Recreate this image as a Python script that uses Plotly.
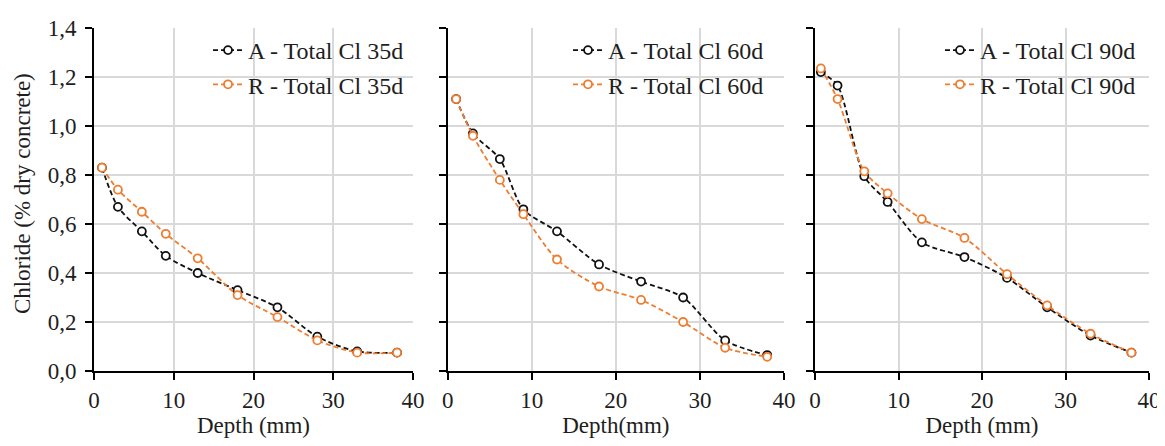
import plotly.graph_objects as go

# ---- data ----
depth_35 = [1, 3, 6, 9, 13, 18, 23, 28, 33, 38]
a_35 = [0.83, 0.67, 0.57, 0.47, 0.40, 0.33, 0.26, 0.14, 0.08, 0.075]
r_35 = [0.83, 0.74, 0.65, 0.56, 0.46, 0.31, 0.22, 0.125, 0.075, 0.075]

depth_60 = [1, 3, 6.2, 9, 13, 18, 23, 28, 33, 38]
a_60 = [1.11, 0.97, 0.865, 0.66, 0.57, 0.435, 0.365, 0.30, 0.125, 0.065]
r_60 = [1.11, 0.96, 0.78, 0.64, 0.455, 0.345, 0.29, 0.20, 0.095, 0.058]

depth_90 = [0.7, 2.7, 5.9, 8.7, 12.8, 17.9, 23, 27.8, 33, 37.9]
a_90 = [1.22, 1.165, 0.795, 0.69, 0.525, 0.465, 0.38, 0.26, 0.145, 0.075]
r_90 = [1.235, 1.11, 0.815, 0.725, 0.62, 0.543, 0.395, 0.268, 0.152, 0.075]

panels = [
    ("35d", depth_35, a_35, r_35, "Depth (mm)"),
    ("60d", depth_60, a_60, r_60, "Depth(mm)"),
    ("90d", depth_90, a_90, r_90, "Depth (mm)"),
]
y_title = "Chloride (% dry concrete)"

OFF = 8  # page body margin
W, H = 1165 - OFF, 446 - 2 * OFF
x_dom_px = [(94, 413), (447.7, 784), (815, 1149)]
y_top, y_bot = 28, 371
y_dom = [1 - (y_bot - OFF) / H, 1 - (y_top - OFF) / H]
legend_x_px = [208, 568, 940]

FONT = "Liberation Serif"
BLACK = "#111111"
ORANGE = "#ED7D31"
GRID = "#D9D9D9"
TXT = "#1e1e1e"
FS_TICK = 23
FS_TITLE = 23
FS_LEG = 24

fig = go.Figure()
layout = dict(
    width=W, height=H,
    margin=dict(l=0, r=0, t=0, b=0),
    paper_bgcolor="white", plot_bgcolor="white",
    separators=",.",
    font=dict(family=FONT, size=FS_TICK, color=TXT),
    showlegend=True,
)

for i, (lab, d, a, r, xt) in enumerate(panels):
    n = i + 1
    xs = "" if n == 1 else str(n)
    xa = "x" + xs
    ya = "y" + xs
    lg = "legend" if n == 1 else f"legend{n}"
    for name, vals, col in ((f"A - Total Cl {lab}", a, BLACK), (f"R - Total Cl {lab}", r, ORANGE)):
        fig.add_trace(go.Scatter(
            x=d, y=vals, name=name, xaxis=xa, yaxis=ya, legend=lg,
            legendgroup=name,
            mode="lines+markers",
            line=dict(color=col, width=1.8, dash="5px,3px", shape="spline", smoothing=0.8),
            marker=dict(symbol="circle", size=8, color="white", line=dict(color=col, width=1.8)),
        ))
    dom = [(x_dom_px[i][0] - OFF) / W, (x_dom_px[i][1] - OFF) / W]
    layout["xaxis" + xs] = dict(
        domain=dom, anchor=ya, range=[0, 40], tick0=0, dtick=10,
        showgrid=True, gridcolor=GRID, gridwidth=1.5,
        showline=True, linecolor="black", linewidth=2,
        ticks="outside", ticklen=7, tickwidth=2, tickcolor="black",
        tickfont=dict(size=FS_TICK, family=FONT, color=TXT),
        ticklabeloverflow="allow",
        zeroline=False, automargin=False,
        title=dict(text=xt, font=dict(size=FS_TITLE, family=FONT, color=TXT)),
    )
    layout["yaxis" + xs] = dict(
        domain=y_dom, anchor=xa, range=[0, 1.4], tick0=0, dtick=0.2, tickformat=".1f",
        showgrid=True, gridcolor=GRID, gridwidth=1.5,
        showline=True, linecolor="black", linewidth=2,
        ticks="outside", ticklen=7, tickwidth=2, tickcolor="black",
        showticklabels=(n == 1), ticklabelstandoff=4,
        tickfont=dict(size=FS_TICK, family=FONT, color=TXT),
        zeroline=False, automargin=False,
    )
    ox = str(n + 3)
    layout["xaxis" + ox] = dict(
        domain=dom, overlaying=xa, anchor="y" + ox, range=[0, 40], tick0=0, dtick=10,
        showgrid=False, showline=False, zeroline=False, showticklabels=False,
        ticks="inside", ticklen=6, tickwidth=2, tickcolor="black", automargin=False,
    )
    layout["yaxis" + ox] = dict(
        domain=y_dom, overlaying=ya, anchor="x" + ox, range=[0, 1.4], tick0=0, dtick=0.2,
        showgrid=False, showline=False, zeroline=False, showticklabels=False,
        ticks="inside", ticklen=6, tickwidth=2, tickcolor="black", automargin=False,
    )
    layout[lg] = dict(
        x=(legend_x_px[i] - OFF) / W, y=1 - (28 - OFF) / H, xanchor="left", yanchor="top",
        bgcolor="rgba(0,0,0,0)", borderwidth=0,
        font=dict(size=FS_LEG, family=FONT, color=TXT),
        tracegroupgap=0, itemwidth=30,
    )

layout["annotations"] = [dict(
    text=y_title, xref="paper", yref="paper",
    x=(23 - OFF) / W, y=1 - (194 - OFF) / H, xanchor="center", yanchor="middle",
    textangle=-90, showarrow=False,
    font=dict(size=FS_TITLE, family=FONT, color=TXT),
)]

fig.update_layout(**layout)
fig.write_html("out.html")
